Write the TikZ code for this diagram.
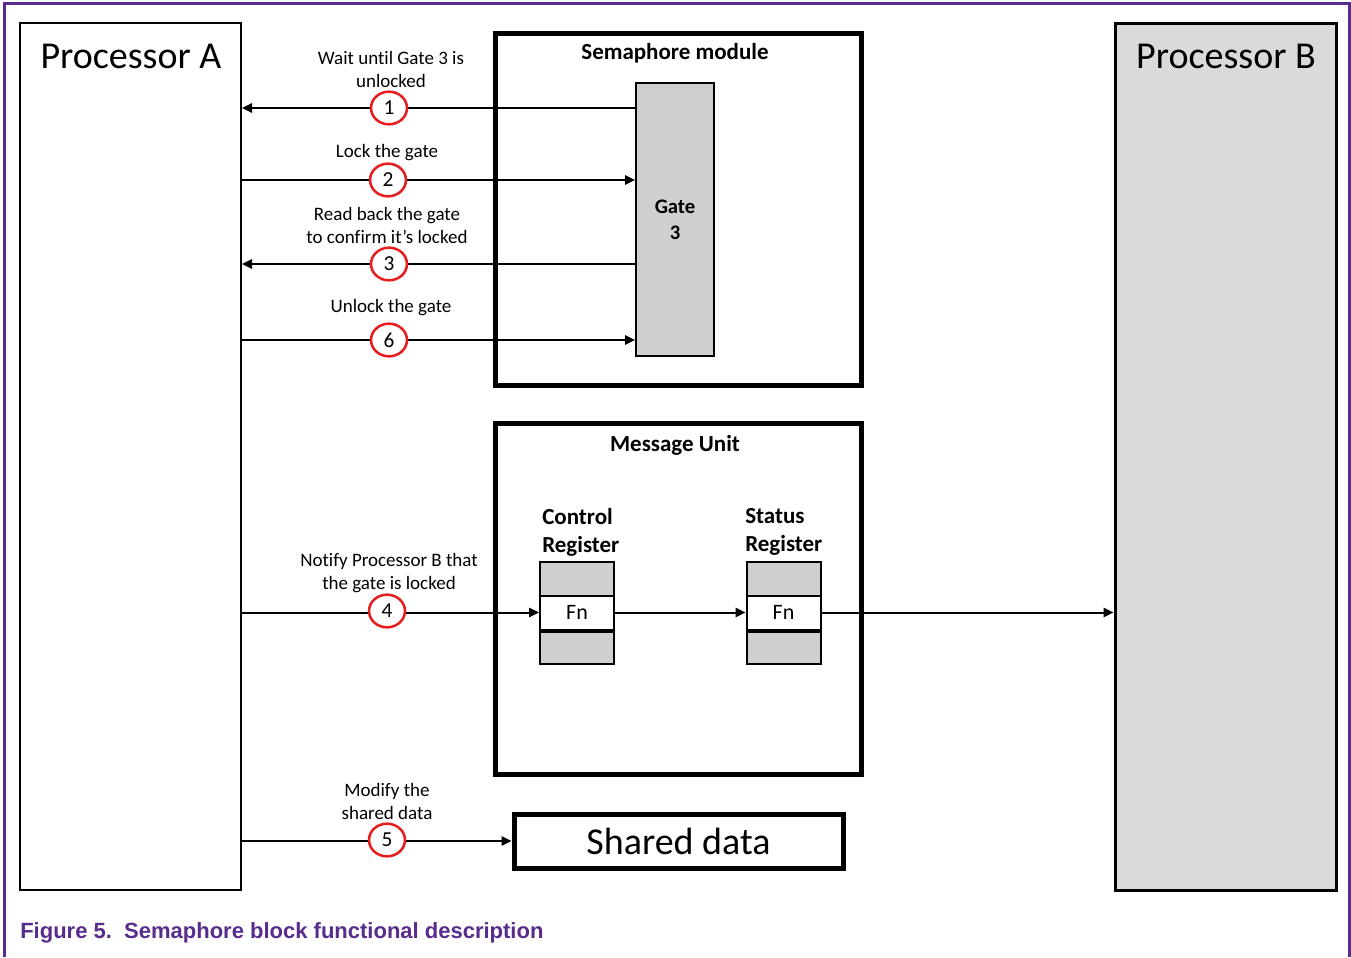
\documentclass[tikz,border=0pt]{standalone}
\usepackage{fontspec}
\setmainfont[Ligatures=NoCommon]{Carlito}
\newfontfamily\capfont{Liberation Sans}
\usetikzlibrary{arrows.meta,shapes.geometric}
\definecolor{nxppurple}{RGB}{88,44,140}
\definecolor{procgray}{RGB}{218,218,218}
\definecolor{gategray}{RGB}{208,206,206}
\definecolor{stepred}{RGB}{232,30,30}
\pgfdeclarelayer{lines}
\pgfsetlayers{lines,main}

\begin{document}
\begin{tikzpicture}[x=0.75pt,y=-0.75pt,
  proc/.style={draw=black, rectangle, inner sep=0pt,
    minimum width=165.75pt, minimum height=650.25pt},
  proctitle/.style={font=\fontsize{28.5}{32}\selectfont, anchor=base, inner sep=0pt},
  module/.style={draw=black, line width=3.75pt, rectangle, inner sep=0pt,
    minimum width=274.5pt},
  modtitle/.style={font=\bfseries\fontsize{17.25}{20}\selectfont, inner sep=0pt},
  steplabel/.style={font=\fontsize{14.25}{17.25}\selectfont, align=center, inner sep=0pt},
  stepnum/.style={ellipse, draw=stepred, line width=1.9pt, fill=white,
    minimum width=27pt, minimum height=24.5pt, inner sep=0pt,
    font=\fontsize{16}{18}\selectfont},
  regcell/.style={draw=black, line width=1.5pt, rectangle, inner sep=0pt,
    minimum width=55.5pt, minimum height=25.5pt},
  reggray/.style={regcell, fill=gategray},
  regname/.style={font=\bfseries\fontsize{17.25}{21}\selectfont, align=left,
    inner sep=0pt, anchor=west},
  arr/.style={line width=1.5pt, -{Triangle[length=7.5pt,width=7pt]}}
]
\useasboundingbox (0,0) rectangle (1351,957);

% frame of the figure
\draw[nxppurple, line width=2.25pt] (4,957) -- (4,3) -- (1349,3) -- (1349,957);

% processors
\node[proc, line width=1.5pt, fill=white] (pa) at (130.5,456.5) {};
\node[proc, line width=2.25pt, fill=procgray] (pb) at (1225.5,456.5) {};
\node[proctitle] (pat) at (131,68) {Processor A};
\node[proctitle] (pbt) at (1226,68) {Processor B};

% semaphore module with gate 3
\node[module, minimum height=264pt] (sema) at (678,209) {};
\node[modtitle] (semat) at (675,53) {Semaphore module};
\node[draw=black, line width=1.5pt, fill=gategray, inner sep=0pt,
  minimum width=58.5pt, minimum height=204.75pt] (gate) at (675,219.5) {};
\node[font=\bfseries\fontsize{15.5}{19.5}\selectfont, align=center, inner sep=0pt]
  (gatet) at (675,220) {Gate\\3};

% message unit with its registers
\node[module, minimum height=263.25pt] (mu) at (678,598.5) {};
\node[modtitle] (mut) at (675,445) {Message Unit};
\node[regname] (crt) at (542,532) {Control\\Register};
\node[regname] (srt) at (745,532) {Status\\Register};

\node[reggray] (cr1) at (577,578.5) {};
\node[regcell, fill=white, font=\fontsize{16.5}{18}\selectfont] (cr) at (577,612.5) {Fn};
\node[reggray] (cr3) at (577,646.5) {};
\draw[line width=3pt] (cr.south west) -- (cr.south east);

\node[reggray] (sr1) at (783.5,578.5) {};
\node[regcell, fill=white, font=\fontsize{16.5}{18}\selectfont] (sr) at (783.5,612.5) {Fn};
\node[reggray] (sr3) at (783.5,646.5) {};
\draw[line width=3pt] (sr.south west) -- (sr.south east);

% shared data
\node[module, minimum width=246.75pt, minimum height=40.5pt,
  font=\fontsize{28.5}{32}\selectfont] (sd) at (678.5,841) {Shared data};

% step markers
\node[stepnum] (s1) at (389,108) {1};
\node[stepnum] (s2) at (388,180) {2};
\node[stepnum] (s3) at (389,264) {3};
\node[stepnum] (s6) at (389,340) {6};
\node[stepnum] (s4) at (387,611) {4};
\node[stepnum] (s5) at (387,840) {5};

% connectors, kept behind the markers
\begin{pgfonlayer}{lines}
\draw[arr] (gate.west |- s1) -- (pa.east |- s1);
\draw[arr] (pa.east |- s2) -- (gate.west |- s2);
\draw[arr] (gate.west |- s3) -- (pa.east |- s3);
\draw[arr] (pa.east |- s6) -- (gate.west |- s6);
\draw[arr] (pa.east |- cr.west) -- (cr.west);
\draw[arr] (cr.east) -- (sr.west);
\draw[arr] (sr.east) -- (pb.west |- sr.east);
\draw[arr] (pa.east |- sd.west) -- (sd.west);
\end{pgfonlayer}

% step labels
\node[steplabel] (l1) at (391,69) {Wait until Gate 3 is\\unlocked};
\node[steplabel] (l2) at (387,153) {Lock the gate};
\node[steplabel] (l3) at (387,225.5) {Read back the gate\\to confirm it’s locked};
\node[steplabel] (l6) at (391,308) {Unlock the gate};
\node[steplabel] (l4) at (389,573) {Notify Processor B that\\the gate is locked};
\node[steplabel] (l5) at (387,801) {Modify the\\shared data};

% caption
\node[anchor=base west, inner sep=0pt, text=nxppurple,
  font=\capfont\bfseries\fontsize{16.5}{20}\selectfont] (cap) at (20,938)
  {Figure 5.\ \ Semaphore block functional description};
\end{tikzpicture}
\end{document}
